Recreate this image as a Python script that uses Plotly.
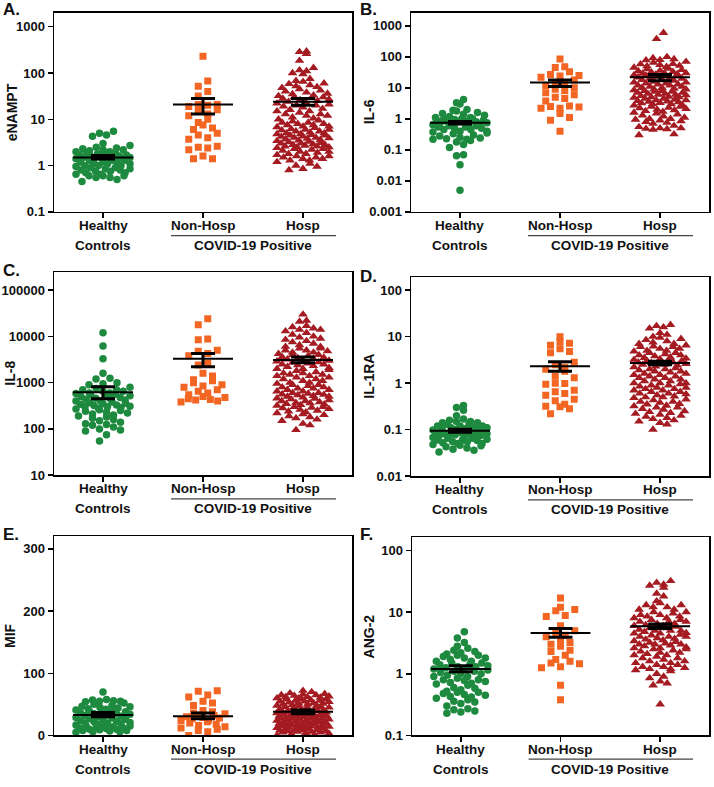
import numpy as np
import plotly.graph_objects as go

W, H = 714, 787
categories = ["Healthy", "Non-Hosp", "Hosp"]
group_colors = ["#1e8a3f", "#f26522", "#a51b22"]
group_symbols = ["circle", "square", "triangle-up"]
group_sizes = [7.5, 7, 8.5]

# ---------------- A. eNAMPT ----------------
a_healthy = [5.5, 5.0, 4.6, 4.3, 3.0, 2.7, 2.5, 2.4, 2.3, 2.2, 2.2, 2.1, 2.0, 2.0, 1.9, 1.9, 1.8, 1.8,
             1.7, 1.7, 1.6, 1.6, 1.6, 1.5, 1.5, 1.5, 1.5, 1.4, 1.4, 1.4, 1.3, 1.3, 1.3, 1.2, 1.2, 1.2,
             1.1, 1.1, 1.1, 1.0, 1.0, 1.0, 0.95, 0.9, 0.9, 0.85, 0.85, 0.8, 0.8, 0.75, 0.75, 0.7, 0.7,
             0.65, 0.65, 0.6, 0.6, 0.6, 0.55, 0.55, 0.5, 0.45]
a_nonhosp = [230, 67, 52, 40, 32, 21, 21, 20, 19, 16, 15, 13, 12, 10, 8.5, 7.5, 6.5, 6.0, 5.0, 4.6,
             4.0, 3.7, 2.6, 2.5, 2.4, 2.2, 1.6, 1.4, 1.4]
a_hosp = [295, 285, 260, 185, 130, 115, 110, 100, 95, 75, 68, 65, 60, 58, 55, 52, 50, 48, 45,
          42, 40, 38, 36, 35, 33, 32, 30, 30, 29, 28, 27, 26, 25, 24, 23, 22, 21, 20, 20, 19,
          18, 17, 16, 15, 15, 14, 13, 13, 12, 12, 11, 10.5, 10, 9.5, 9, 8.5, 8.5, 8, 8, 7.5, 7.5,
          7, 7, 6.8, 6.5, 6.2, 6, 6, 5.8, 5.5, 5.5, 5.2, 5, 5, 4.8, 4.8, 4.6, 4.5, 4.5,
          4.3, 4.2, 4, 4, 3.9, 3.8, 3.7, 3.6, 3.5, 3.4, 3.3, 3.2, 3.1, 3.0, 3.0,
          2.9, 2.8, 2.8, 2.7, 2.6, 2.6, 2.5, 2.5, 2.4, 2.3, 2.3, 2.2, 2.1, 2.0, 2.0,
          1.9, 1.8, 1.8, 1.7, 1.6, 1.6, 1.5, 1.5, 1.4, 1.4, 1.3, 1.3, 1.2, 1.1, 1.0, 0.95, 0.85, 0.8]
a_mean = [1.5, 21, 24]
a_upper = [1.65, 28, 28]
a_lower = [1.38, 13, 20]
a_ticklabels = ["0.1", "1", "10", "100", "1000"]

# ---------------- B. IL-6 ----------------
b_healthy = [4.2, 3.3, 3.0, 2.0, 1.9, 1.8, 1.6, 1.5, 1.4, 1.3, 1.2, 1.1, 1.1, 1.0, 1.0, 1.0, 0.95, 0.9,
             0.9, 0.85, 0.8, 0.8, 0.8, 0.75, 0.75, 0.7, 0.7, 0.7, 0.65, 0.6, 0.6, 0.55, 0.55, 0.5, 0.5,
             0.45, 0.45, 0.4, 0.4, 0.38, 0.35, 0.33, 0.3, 0.28, 0.25, 0.24, 0.23, 0.22, 0.22, 0.2,
             0.18, 0.15, 0.12, 0.07, 0.065, 0.033, 0.005]
b_nonhosp = [85, 48, 45, 33, 27, 25, 24, 22, 18, 15, 13, 12, 10, 9, 8, 7, 6, 5, 4.5, 3.8, 2.6, 2.5,
             2.4, 2.2, 2.2, 1.5, 1.1, 0.9, 0.4]
b_hosp = [600, 380, 100, 92, 85, 80, 78, 70, 65, 60, 58, 55, 52, 50, 48, 45, 42, 40, 38, 36, 35, 33,
          32, 30, 30, 29, 28, 27, 26, 25, 25, 24, 23, 22, 21, 20, 20, 19, 18, 17, 16, 15, 15, 14, 14,
          13, 13, 12, 12, 11, 11, 10, 10, 9.5, 9, 9, 8.5, 8, 8, 7.5, 7.5, 7, 7, 6.5, 6.5, 6, 6,
          5.8, 5.5, 5.2, 5, 5, 4.8, 4.5, 4.5, 4.2, 4, 4, 3.8, 3.7, 3.6, 3.5, 3.3, 3.2, 3, 3, 2.8,
          2.7, 2.5, 2.5, 2.3, 2.2, 2.1, 2.0, 1.9, 1.8, 1.7, 1.6, 1.5, 1.4, 1.3, 1.2, 1.1, 1.0, 1.0,
          0.95, 0.9, 0.85, 0.8, 0.75, 0.7, 0.6, 0.55, 0.5, 0.5, 0.48, 0.47, 0.45, 0.32, 0.3]
b_mean = [0.75, 15, 22]
b_upper = [0.82, 18, 27]
b_lower = [0.68, 11, 17]
b_ticklabels = ["0.001", "0.01", "0.1", "1", "10", "100", "1000"]

# ---------------- C. IL-8 ----------------
c_healthy = [12000, 6200, 3300, 1600, 1250, 1200, 1000, 950, 900, 800, 750, 700, 700, 650, 650, 600,
             600, 580, 560, 540, 520, 500, 500, 480, 460, 450, 440, 420, 400, 400, 380, 370, 360, 350,
             340, 330, 320, 310, 300, 300, 290, 280, 270, 260, 250, 240, 230, 220, 210, 200, 190, 180,
             170, 160, 150, 140, 130, 125, 120, 110, 100, 95, 90, 75, 55]
c_nonhosp = [24000, 18000, 8800, 8500, 5000, 4800, 4300, 3800, 2600, 2400, 1600, 1400, 1150, 1100, 1000,
             900, 850, 800, 700, 650, 600, 550, 500, 480, 450, 430, 420, 400, 380]
c_hosp = [30000, 22000, 21000, 17000, 16000, 15000, 14000, 14000, 13000, 12000, 11000, 10000, 9500, 9000,
          8500, 8000, 7500, 7000, 6500, 6000, 6000, 5500, 5500, 5000, 5000, 4800, 4500, 4500, 4200, 4000,
          4000, 3800, 3600, 3500, 3400, 3300, 3200, 3000, 3000, 2900, 2800, 2700, 2600, 2500, 2500, 2400,
          2300, 2200, 2100, 2000, 2000, 1900, 1800, 1700, 1600, 1600, 1500, 1500, 1400, 1400, 1300, 1300,
          1200, 1200, 1100, 1100, 1000, 1000, 950, 900, 900, 850, 800, 800, 750, 750, 700, 700, 650, 650,
          600, 600, 580, 560, 550, 540, 520, 500, 500, 480, 460, 450, 440, 420, 400, 400, 380, 370, 360,
          350, 340, 330, 320, 300, 300, 290, 280, 270, 260, 250, 240, 230, 220, 210, 200, 190, 180, 170,
          160, 150, 130, 120, 95]
c_mean = [620, 3300, 3100]
c_upper = [820, 4300, 3600]
c_lower = [450, 2200, 2700]
c_ticklabels = ["10", "100", "1000", "10000", "100000"]

# ---------------- D. IL-1RA ----------------
d_healthy = [0.33, 0.30, 0.26, 0.2, 0.17, 0.16, 0.15, 0.15, 0.14, 0.14, 0.13, 0.13, 0.12, 0.12, 0.12,
             0.11, 0.11, 0.11, 0.105, 0.10, 0.10, 0.10, 0.098, 0.095, 0.095, 0.092, 0.09, 0.09, 0.088,
             0.085, 0.085, 0.082, 0.08, 0.08, 0.078, 0.075, 0.075, 0.072, 0.07, 0.07, 0.068, 0.065,
             0.065, 0.062, 0.06, 0.06, 0.058, 0.055, 0.055, 0.052, 0.05, 0.05, 0.048, 0.046, 0.045,
             0.043, 0.04, 0.038, 0.036, 0.033]
d_nonhosp = [10, 7.8, 7.2, 6.5, 5.5, 4.8, 4.5, 2.8, 2.5, 2.2, 2.0, 1.8, 1.4, 1.3, 1.0, 0.98, 0.95, 0.7,
             0.65, 0.6, 0.55, 0.45, 0.42, 0.35, 0.32, 0.31, 0.28, 0.22]
d_hosp = [18, 17, 16, 15, 12, 11, 10, 9.5, 9, 8.5, 8, 7.5, 7, 7, 6.5, 6.2, 6, 6, 5.5, 5.5, 5, 5, 4.8,
          4.5, 4.5, 4.2, 4, 4, 3.8, 3.6, 3.5, 3.4, 3.3, 3.2, 3.1, 3.0, 3.0, 2.9, 2.8, 2.8, 2.7, 2.6,
          2.5, 2.5, 2.4, 2.3, 2.2, 2.1, 2.0, 2.0, 1.9, 1.8, 1.8, 1.7, 1.6, 1.6, 1.5, 1.5, 1.4, 1.4,
          1.3, 1.3, 1.2, 1.2, 1.1, 1.1, 1.0, 1.0, 1.0, 0.95, 0.9, 0.9, 0.85, 0.8, 0.8, 0.75, 0.75,
          0.7, 0.7, 0.65, 0.65, 0.6, 0.6, 0.58, 0.55, 0.52, 0.5, 0.5, 0.48, 0.45, 0.43, 0.4, 0.4,
          0.38, 0.36, 0.35, 0.33, 0.32, 0.3, 0.3, 0.28, 0.27, 0.25, 0.24, 0.23, 0.22, 0.21, 0.2,
          0.19, 0.18, 0.17, 0.16, 0.15, 0.14, 0.13, 0.1]
d_mean = [0.095, 2.3, 2.7]
d_upper = [0.102, 2.9, 2.95]
d_lower = [0.088, 1.8, 2.5]
d_ticklabels = ["0.01", "0.1", "1", "10", "100"]

# ---------------- E. MIF ----------------
e_healthy = [70, 58, 57, 56, 55, 55, 54, 52, 50, 48, 47, 46, 45, 44, 43, 42, 41, 40, 39, 38, 37, 36,
             35, 35, 34, 33, 32, 31, 30, 29, 28, 27, 26, 25, 24, 23, 22, 21, 20, 20, 19, 18, 17, 16,
             15, 15, 14, 13, 12, 12, 11, 10, 10, 9, 8, 8, 7, 6, 6, 5]
e_nonhosp = [72, 71, 65, 62, 55, 52, 48, 40, 38, 36, 35, 33, 32, 30, 29, 28, 27, 25, 24, 22, 20, 18,
             16, 14, 12, 10, 8, 6, 0]
e_hosp = [72, 70, 68, 67, 66, 65, 65, 64, 63, 62, 62, 61, 60, 60, 59, 58, 58, 57, 56, 56, 55, 55, 54,
          53, 52, 52, 51, 50, 50, 49, 48, 48, 47, 46, 46, 45, 45, 44, 43, 42, 42, 41, 40, 40, 39, 39,
          38, 38, 37, 37, 36, 36, 35, 35, 34, 34, 33, 33, 32, 32, 31, 31, 30, 30, 29, 29, 28, 28, 27,
          27, 26, 26, 25, 25, 24, 24, 23, 23, 22, 22, 21, 21, 20, 20, 19, 19, 18, 18, 17, 17, 16, 16,
          15, 15, 14, 14, 13, 13, 12, 12, 11, 11, 10, 10, 9, 9, 8, 8, 7, 7, 6, 6, 5, 5, 4, 3, 2, 1, 0]
e_mean = [33, 31, 38]
e_upper = [37, 36, 41]
e_lower = [30, 27, 35]
e_ticklabels = ["0", "100", "200", "300"]

# ---------------- F. ANG-2 ----------------
f_healthy = [4.8, 3.8, 3.2, 2.8, 2.6, 2.4, 2.3, 2.2, 2.1, 2.0, 2.0, 1.9, 1.8, 1.8, 1.7, 1.6, 1.6, 1.5,
             1.5, 1.4, 1.4, 1.35, 1.3, 1.3, 1.25, 1.2, 1.2, 1.15, 1.1, 1.1, 1.05, 1.0, 1.0, 0.95, 0.9,
             0.9, 0.85, 0.8, 0.8, 0.78, 0.75, 0.72, 0.7, 0.68, 0.65, 0.6, 0.58, 0.55, 0.52, 0.5, 0.5,
             0.48, 0.46, 0.45, 0.43, 0.42, 0.4, 0.38, 0.36, 0.35, 0.33, 0.3, 0.27, 0.26, 0.25, 0.24, 0.23]
f_nonhosp = [17, 12, 11, 10.5, 8.8, 8.5, 6, 5, 4.5, 4.2, 4, 3.6, 3.2, 3, 2.8, 2.4, 2.3, 2.0, 1.7, 1.6,
             1.5, 1.45, 1.3, 1.25, 0.65, 0.38]
f_hosp = [32, 30, 28, 27, 25, 20, 18, 15, 14, 13, 13, 12, 12, 11, 11, 10, 10, 9.5, 9, 9, 8.5, 8.5, 8, 8,
          7.5, 7.5, 7, 7, 7, 6.5, 6.5, 6.2, 6, 6, 5.8, 5.5, 5.5, 5.2, 5, 5, 5, 4.8, 4.6, 4.5, 4.5, 4.3,
          4.2, 4, 4, 4, 3.8, 3.7, 3.6, 3.5, 3.4, 3.3, 3.2, 3.1, 3, 3, 3, 2.9, 2.8, 2.7, 2.6, 2.6, 2.5,
          2.5, 2.4, 2.3, 2.2, 2.2, 2.1, 2.0, 2.0, 1.9, 1.8, 1.8, 1.7, 1.6, 1.6, 1.5, 1.5, 1.4, 1.4, 1.3,
          1.3, 1.25, 1.2, 1.2, 1.15, 1.1, 1.0, 0.9, 0.85, 0.75, 0.7, 0.65, 0.32]
f_mean = [1.2, 4.6, 5.9]
f_upper = [1.35, 5.4, 6.4]
f_lower = [1.08, 3.9, 5.4]
f_ticklabels = ["0.1", "1", "10", "100"]

# ---------------- layout of panels (pixel boxes) ----------------
panels = [
    dict(letter="A.", title="eNAMPT", groups=[a_healthy, a_nonhosp, a_hosp], mean=a_mean, up=a_upper, lo=a_lower,
         log=True, yr=(-1, 3.3), ticks=a_ticklabels, box=(54, 352, 13, 214), lxy=(1, 10), tx=12),
    dict(letter="B.", title="IL-6", groups=[b_healthy, b_nonhosp, b_hosp], mean=b_mean, up=b_upper, lo=b_lower,
         log=True, yr=(-3, 3.42), ticks=b_ticklabels, box=(411, 709, 13, 214), lxy=(358, 10), tx=369),
    dict(letter="C.", title="IL-8", groups=[c_healthy, c_nonhosp, c_hosp], mean=c_mean, up=c_upper, lo=c_lower,
         log=True, yr=(1, 5.39), ticks=c_ticklabels, box=(54, 352, 275, 480), lxy=(1, 273), tx=10),
    dict(letter="D.", title="IL-1RA", groups=[d_healthy, d_nonhosp, d_hosp], mean=d_mean, up=d_upper, lo=d_lower,
         log=True, yr=(-2, 2.28), ticks=d_ticklabels, box=(411, 709, 280, 481), lxy=(358, 279), tx=369),
    dict(letter="E.", title="MIF", groups=[e_healthy, e_nonhosp, e_hosp], mean=e_mean, up=e_upper, lo=e_lower,
         log=False, yr=(0, 320), ticks=e_ticklabels, box=(54, 352, 542, 743), lxy=(1, 540), tx=10),
    dict(letter="F.", title="ANG-2", groups=[f_healthy, f_nonhosp, f_hosp], mean=f_mean, up=f_upper, lo=f_lower,
         log=True, yr=(-1, 2.21), ticks=f_ticklabels, box=(412, 709, 543, 743), lxy=(358, 540), tx=369),
]

XR = (-0.49, 2.49)
FONT = "Liberation Sans, Arial, sans-serif"
H_STEP = [7.0, 9.5, 7.0]      # horizontal spacing of points in a row (px)
MAX_HALF = [27.0, 22.0, 26.0]  # max half-width of the swarm (px)


def swarm(vals, ypx, d, step_px, maxhalf, pxu):
    """Prism-like row layout: group points whose pixel y lie within d, spread horizontally."""
    ypx = np.asarray(ypx, float)
    order = np.argsort(ypx)
    rows, cur, start = [], [], None
    for i in order:
        if start is None or ypx[i] - start >= d:
            if cur:
                rows.append(cur)
            cur, start = [i], ypx[i]
        else:
            cur.append(i)
    if cur:
        rows.append(cur)
    off = np.zeros(len(vals))
    for r in rows:
        k = len(r)
        step = step_px if k <= 1 else min(step_px, 2 * maxhalf / (k - 1))
        slots = sorted(range(k), key=lambda j: (j * 0.618034) % 1.0)
        for rank, i in enumerate(r):
            j = slots[rank]
            off[i] = (j - (k - 1) / 2) * step / pxu
    return off


fig = go.Figure()
layout = dict(width=W, height=H, margin=dict(l=0, r=0, t=0, b=0), paper_bgcolor="white",
              plot_bgcolor="white", showlegend=False, font=dict(family=FONT, color="#111"))
annotations, shapes = [], []

for n, p in enumerate(panels, start=1):
    sfx = "" if n == 1 else str(n)
    xa, ya = "x" + sfx, "y" + sfx
    x0, x1, y0, y1 = p["box"]
    pw, ph = x1 - x0, y1 - y0
    pxu = pw / (XR[1] - XR[0])
    pyu = ph / (p["yr"][1] - p["yr"][0])
    tickvals = [float(t) for t in p["ticks"]]

    for g, vals in enumerate(p["groups"]):
        v = np.asarray(vals, float)
        if p["log"]:
            ypx = np.log10(v) * pyu
        else:
            ypx = v * pyu
        off = swarm(v, ypx, 7.0, H_STEP[g], MAX_HALF[g], pxu)
        fig.add_trace(go.Scatter(x=g + off, y=v, mode="markers", xaxis=xa, yaxis=ya,
                                 marker=dict(symbol=group_symbols[g], size=group_sizes[g],
                                             color=group_colors[g], line=dict(width=0)),
                                 hoverinfo="skip"))
    # mean +/- SEM
    mx, my, ex, ey = [], [], [], []
    for g in range(3):
        m, u, l = p["mean"][g], p["up"][g], p["lo"][g]
        mx += [g - 0.3, g + 0.3, None]
        my += [m, m, None]
        ex += [g - 0.12, g + 0.12, None, g - 0.12, g + 0.12, None, g, g, None]
        ey += [u, u, None, l, l, None, u, l, None]
    fig.add_trace(go.Scatter(x=ex, y=ey, mode="lines", xaxis=xa, yaxis=ya,
                             line=dict(color="black", width=3), hoverinfo="skip"))
    fig.add_trace(go.Scatter(x=mx, y=my, mode="lines", xaxis=xa, yaxis=ya,
                             line=dict(color="black", width=2), hoverinfo="skip"))

    layout["xaxis" + sfx] = dict(domain=[x0 / W, x1 / W], range=list(XR), anchor=ya,
                                 tickvals=[0, 1, 2], ticktext=["", "", ""],
                                 ticks="outside", ticklen=5, tickwidth=1.5, tickcolor="black",
                                 showline=True, linecolor="black", linewidth=1.5, mirror=True,
                                 showgrid=False, zeroline=False, fixedrange=True)
    layout["yaxis" + sfx] = dict(domain=[1 - y1 / H, 1 - y0 / H], anchor=xa,
                                 type="log" if p["log"] else "linear", range=list(p["yr"]),
                                 tickvals=tickvals, ticktext=["<b>%s</b>" % t for t in p["ticks"]],
                                 tickfont=dict(size=13, family=FONT, color="#111"),
                                 ticks="outside", ticklen=5, tickwidth=1.5, tickcolor="black",
                                 showline=True, linecolor="black", linewidth=1.5, mirror=True,
                                 showgrid=False, zeroline=False, fixedrange=True)

    # panel letter
    annotations.append(dict(text="<b>%s</b>" % p["letter"], x=p["lxy"][0] / W, y=1 - p["lxy"][1] / H,
                            xref="paper", yref="paper", xanchor="left", yanchor="middle", showarrow=False,
                            font=dict(size=17, family=FONT, color="#111")))
    # y title
    annotations.append(dict(text="<b>%s</b>" % p["title"], x=p["tx"] / W, y=1 - (y0 + y1) / 2 / H,
                            xref="paper", yref="paper", xanchor="center", yanchor="middle", textangle=-90,
                            showarrow=False, font=dict(size=14, family=FONT, color="#111")))
    # category labels (first line)
    for g, c in enumerate(categories):
        annotations.append(dict(text="<b>%s</b>" % c, x=g, y=1 - (y1 + 14) / H, xref=xa, yref="paper",
                                xanchor="center", yanchor="middle", showarrow=False,
                                font=dict(size=13.5, family=FONT, color="#111")))
    # second line of x labels
    annotations.append(dict(text="<b>Controls</b>", x=0, y=1 - (y1 + 34) / H, xref=xa, yref="paper",
                            xanchor="center", yanchor="middle", showarrow=False,
                            font=dict(size=13.5, family=FONT, color="#111")))
    annotations.append(dict(text="<b>COVID-19 Positive</b>", x=1.5, y=1 - (y1 + 34) / H, xref=xa, yref="paper",
                            xanchor="center", yanchor="middle", showarrow=False,
                            font=dict(size=13.5, family=FONT, color="#111")))
    shapes.append(dict(type="line", x0=0.68, x1=2.33, y0=1 - (y1 + 24) / H, y1=1 - (y1 + 24) / H,
                       xref=xa, yref="paper", line=dict(color="#444", width=1.2)))

layout["annotations"] = annotations
layout["shapes"] = shapes
fig.update_layout(**layout)
fig.write_html("out.html", config={"displayModeBar": False, "staticPlot": True},
               post_script="document.body.style.margin='0px';document.body.style.overflow='hidden';")
